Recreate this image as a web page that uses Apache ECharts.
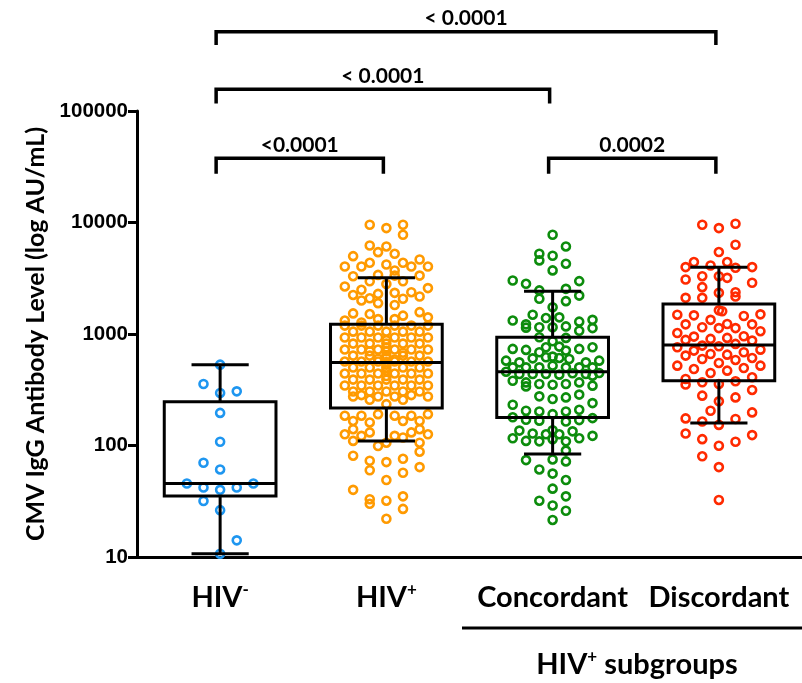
<!DOCTYPE html>
<html><head><meta charset="utf-8">
<script src="https://cdn.jsdelivr.net/npm/echarts@6/dist/echarts.min.js"></script>
<style>html,body{margin:0;padding:0;background:#fff}#c{width:802px;height:683px}</style>
</head><body><div id="c"></div>
<script>
// ---------------- data ----------------
const categories = ['HIV-', 'HIV+', 'Concordant', 'Discordant'];
const yTickLabels = [10, 100, 1000, 10000, 100000];

// box-and-whisker statistics (AU/mL)
const whiskerLow  = [10.7, 110, 84, 159];
const quartile1   = [35.3, 217, 178, 381];
const medians     = [45.6, 556, 459, 798];
const quartile3   = [247, 1222, 934, 1862];
const whiskerHigh = [531, 3190, 2420, 3975];

// individual points: [column offset in the swarm, value]
const hivNegPoints = [
  [0,531],[-1,356],[0,296],[1,306],[0,196],[0,108],[-1,70],[0,61],[-2,45.6],[-1,42],
  [0,40],[1,42],[2,45.6],[-1,31.8],[0,26.3],[1,14.1],[0,10.7]
];
const hivPosPoints = [
  [-1,9550],[0,8910],[1,9550],[1,7760],[-1,6220],[0,6100],[-0.5,5420],[0.5,5240],[-2,4990],[2,4660],
  [-2.5,4030],[-1.5,4030],[-1,4350],[0,4200],[1,4350],[1.5,4030],[2.5,4030],[0.5,3710],[-2,3300],[-0.5,3390],
  [0.5,3340],[2,3340],[-1,2970],[1,2970],[0,2810],[-2.5,2670],[-1.5,2490],[-0.5,2290],[0.5,2340],[1.5,2370],
  [2.5,2580],[-2,2240],[-1,2090],[1,2070],[2,2170],[-1.5,2000],[-0.5,1890],[0.5,1820],[-2,1530],[-1,1510],
  [2,1570],[2.5,1410],[1,1460],[-2.5,1320],[-1.5,1270],[-0.5,1360],[0.5,1360],
  [-2.5,1190],[-1.5,1190],[-0.5,1190],[0.5,1190],[1.5,1190],[2.5,1190],
  [-2,1050],[-1,1050],[0,1050],[1,1050],[2,1050],
  [-2.5,930],[-1.5,930],[-0.5,930],[0.5,930],[1.5,930],[2.5,930],
  [-2,820],[-1,820],[0,820],[1,820],[2,820],
  [-2.5,725],[-1.5,725],[-0.5,725],[0.5,725],[1.5,725],[2.5,725],
  [-2,640],[-1,640],[0,640],[1,640],[2,640],
  [-2.5,566],[-1.5,566],[-0.5,566],[0.5,566],[1.5,566],[2.5,566],
  [-2,500],[-1,500],[0,500],[1,500],[2,500],
  [-2.5,442],[-1.5,442],[-0.5,442],[0.5,442],[1.5,442],[2.5,442],
  [-2,390],[-1,390],[0,390],[1,390],[2,390],
  [-2.5,345],[-1.5,345],[-0.5,345],[0.5,345],[1.5,345],[2.5,345],
  [-2,305],[-1,305],[0,305],[1,305],[2,305],
  [0,700],[0,610],[0,560],[0,530],[0,470],[0.5,590],[-0.5,600],[0,760],[0,880],[-1,700],[1,680],[0,420],
  [-2,275],[-1.5,283],[-0.5,275],[0.5,275],[1.5,283],[2.5,275],[-1,257],[1,257],[0,235],
  [-2.5,185],[-2,166],[-1.5,185],[-1,161],[-0.5,191],[0.5,185],[1,166],[1.5,185],[2,166],[2.5,191],
  [-2.5,126],[-2,140],[-2,110],[-1.5,122],[-1,131],[-0.5,99],[0,106],[0.5,122],[1,118],[1.5,131],
  [2,140],[2,106],[2.5,126],[2,88],[-2,81],[-1,73],[-1,60],[0,71],[1,76],[1,57],
  [2,64],[0,49],[-2,40],[-1,33],[-1,30],[0,32],[1,35],[1,27],[0,22]
];
const concordantPoints = [
  [0,7760],[1,6100],[-1,5250],[-1,4570],[0,5030],[1,4270],[0,3720],[-3,3020],[-2,2820],[2,2980],
  [-1,2460],[1,2540],[-1,2070],[1,1970],[2,2210],[0,1740],[-1.5,1490],[-0.5,1390],[0.5,1410],[-3,1320],
  [-2,1220],[-2,1140],[-1,1150],[0,1150],[1,1170],[2,1290],[2,1070],[3,1340],[3,1130],[-1,935],
  [0,861],[1,923],[-0.5,760],[0.5,771],[-3,735],[-2,720],[1,710],[2,735],[3,760],[-1,686],
  [-1.5,605],[0,627],[-0.5,618],[0.5,610],[-3.5,577],[-2.5,557],[1.25,597],[2.5,557],[3.5,577],
  [-3,502],[-2,502],[-1,502],[0,520],[1,502],[2,502],[3,502],
  [-3.5,459],[-2.5,438],[-1.5,438],[-0.5,438],[0.5,432],[1.5,444],[2.5,438],[3.5,447],
  [-3,381],[-2,368],[-2,339],[-1,356],[0,351],[1,356],[2,368],[3,344],[3,423],
  [-1,276],[0,261],[1,270],[2,286],[-3,232],[3,240],
  [-3,179],[-2,205],[-1,202],[0,191],[1,202],[2,209],[3,176],[-2,170],[-1,167],[1,164],[2,169],
  [-2.5,136],[-1.5,128],[-0.5,126],[0,137],[0.5,126],[1.5,134],
  [-3,116],[-2,110],[-1,109],[0,114],[1,109],[2,116],[3,122],[1,90],
  [-2,74],[0,75],[1,72],[-1,61],[0,56],[1,49],[0,41],[1,35],[-1,32],[0,29],[1,26],[0,21.5]
];
const discordantPoints = [
  [-1,9550],[0,8910],[1,9750],[1,6320],[0,5430],[-1.5,4420],[-2,3980],[-0.5,4120],[0.5,4420],[1,3930],
  [2,3980],[-2,3080],[-1,3300],[0,3300],[0.5,3190],[2,2880],[-1,2630],[0,2340],[1,2370],[1,2170],
  [-2,2110],[-1,2110],[0,1630],[0.2,1600],[-2.5,1490],[-1.5,1470],[1.5,1450],[2.5,1500],
  [-2,1220],[-0.5,1340],[0.5,1230],[2,1220],[-2.5,1020],[-1,1150],[0,1130],[1,1130],[2.5,1060],
  [-2,885],[-1.5,948],[-0.5,904],[0.5,923],[1.5,955],[2,873],
  [-2.5,760],[-1,787],[0,776],[1,815],[2.5,724],
  [-2,640],[-1.5,710],[-0.5,662],[0.5,653],[1.5,686],[2,610],[-1,597],[0,550],[1,585],
  [-2.5,520],[-1.5,485],[-0.5,447],[0.5,469],[1.5,495],[2.5,520],
  [-2,395],[-2,352],[-1,369],[0,356],[1,377],[2,409],[2,315],
  [-1,280],[0,249],[1,270],[-0.5,205],[2,198],[-2,175],[-1,164],[0,153],[1,173],
  [-2,128],[-1,114],[0,99.5],[1,108],[2,124],[-1,80],[0,64],[0,32.5]
];

// significance brackets
const bracketFrom  = [0, 0, 0, 2];
const bracketTo    = [3, 2, 1, 3];
const bracketTop   = [514000, 157000, 37700, 37700];
const bracketLeg   = [390000, 117000, 27400, 27400];
const bracketLabel = ['< 0.0001', '< 0.0001', '<0.0001', '0.0002'];

// ---------------- styling ----------------
const groupPoints = [hivNegPoints, hivPosPoints, concordantPoints, discordantPoints];
const columnStep = [0.1, 0.1, 0.08, 0.1];
const colors = ['#1E96F0', '#FF9A00', '#0C8C0C', '#FF2A00'];
const numFont = 'Liberation Sans';
const txtFont = 'Lato';

const chart = echarts.init(document.getElementById('c'), null, {renderer: 'canvas'});

const scatterSeries = groupPoints.map((pts, g) => ({
  type: 'scatter',
  xAxisIndex: 1, yAxisIndex: 0,
  symbol: 'circle', symbolSize: 8,
  itemStyle: {color: 'rgba(255,255,255,0)', borderColor: colors[g], borderWidth: 2.6, opacity: 1},
  emphasis: {disabled: true},
  silent: true,
  z: 2,
  data: pts.map(p => [g + p[0] * columnStep[g], p[1]])
}));

const boxData = categories.map((c, i) => [i, whiskerLow[i], quartile1[i], medians[i], quartile3[i], whiskerHigh[i]]);

const boxSeries = {
  type: 'custom', xAxisIndex: 1, yAxisIndex: 0, z: 5, silent: true,
  encode: {x: 0, y: [1, 2, 3, 4, 5]},
  data: boxData,
  renderItem: function (params, api) {
    const i = api.value(0);
    const pLow = api.coord([i, api.value(1)]);
    const x = pLow[0];
    const half = api.coord([i + 0.336, api.value(1)])[0] - x;
    const cap = api.coord([i + 0.172, api.value(1)])[0] - x;
    const yLow = pLow[1];
    const yQ1 = api.coord([i, api.value(2)])[1];
    const yMed = api.coord([i, api.value(3)])[1];
    const yQ3 = api.coord([i, api.value(4)])[1];
    const yHigh = api.coord([i, api.value(5)])[1];
    const st = {stroke: '#000', lineWidth: 3, fill: 'none'};
    return {type: 'group', children: [
      {type: 'rect', shape: {x: x - half, y: yQ3, width: 2 * half, height: yQ1 - yQ3}, style: st},
      {type: 'line', shape: {x1: x - half, y1: yMed, x2: x + half, y2: yMed}, style: st},
      {type: 'line', shape: {x1: x, y1: yQ3, x2: x, y2: yHigh}, style: st},
      {type: 'line', shape: {x1: x - cap, y1: yHigh, x2: x + cap, y2: yHigh}, style: st},
      {type: 'line', shape: {x1: x, y1: yQ1, x2: x, y2: yLow}, style: st},
      {type: 'line', shape: {x1: x - cap, y1: yLow, x2: x + cap, y2: yLow}, style: st}
    ]};
  }
};

const bracketData = bracketFrom.map((f, i) => [f, bracketTo[i], bracketTop[i], bracketLeg[i], i]);
const bracketSeries = {
  type: 'custom', xAxisIndex: 1, yAxisIndex: 0, z: 6, silent: true, clip: false,
  encode: {x: [0, 1], y: [2, 3]},
  data: bracketData,
  renderItem: function (params, api) {
    const a = api.value(0), b = api.value(1);
    const pA = api.coord([a, api.value(2)]);
    const pB = api.coord([b, api.value(2)]);
    const yl = api.coord([a, api.value(3)])[1];
    const xa = pA[0] - 4, xb = pB[0] - 3;
    return {type: 'group', children: [
      {type: 'polyline', shape: {points: [[xa, yl], [xa, pA[1]], [xb, pB[1]], [xb, yl]]},
       style: {stroke: '#000', lineWidth: 3.5, fill: 'none', lineJoin: 'miter'}},
      {type: 'text', x: (xa + xb) / 2, y: pA[1] - 13,
       style: {text: bracketLabel[api.value(4)], fill: '#000', font: 'bold 21px ' + txtFont,
               align: 'center', verticalAlign: 'middle'}}
    ]};
  }
};

const richCat = {
  m: {fontSize: 29, fontWeight: 'bold', fontFamily: txtFont, color: '#000', lineHeight: 34},
  s: {fontSize: 17, fontWeight: 'bold', fontFamily: txtFont, color: '#000', verticalAlign: 'top', lineHeight: 17}
};

const option = {
  animation: false,
  backgroundColor: '#fff',
  grid: {left: 137, right: 0, top: 111, bottom: 126, containLabel: false},
  xAxis: [
    {
      type: 'category', data: categories, boundaryGap: true,
      axisLine: {lineStyle: {color: '#000', width: 3}},
      axisTick: {alignWithLabel: true, length: 8, lineStyle: {color: '#000', width: 3}},
      axisLabel: {
        margin: 24, interval: 0,
        formatter: function (v) {
          if (v === 'HIV-') return '{m|HIV}{s|-}';
          if (v === 'HIV+') return '{m|HIV}{s|+}';
          return '{m|' + v + '}';
        },
        rich: richCat
      },
      splitLine: {show: false}
    },
    {type: 'value', min: -0.5, max: 3.5, show: false}
  ],
  yAxis: {
    type: 'log', logBase: 10, min: 10, max: 100000,
    name: 'CMV IgG Antibody Level (log AU/mL)',
    nameLocation: 'middle', nameGap: 88,
    nameTextStyle: {fontFamily: txtFont, fontWeight: 'bold', fontSize: 25, color: '#000'},
    axisLine: {show: true, onZero: false, lineStyle: {color: '#000', width: 3}},
    axisTick: {show: true, length: 9, lineStyle: {color: '#000', width: 3}},
    minorTick: {show: false},
    splitLine: {show: false},
    axisLabel: {
      margin: 9, color: '#000', fontFamily: numFont, fontWeight: 'bold', fontSize: 20.5,
      formatter: function (v) {
        const r = Math.round(v);
        return yTickLabels.indexOf(r) >= 0 ? String(r) : '';
      }
    }
  },
  graphic: [
    {type: 'line', shape: {x1: 462, y1: 628, x2: 802, y2: 628}, style: {stroke: '#000', lineWidth: 3}},
    {type: 'text', x: 637, y: 665,
     style: {text: '{m|HIV}{s|+}{m| subgroups}', align: 'center', verticalAlign: 'middle',
             rich: richCat}}
  ],
  series: [...scatterSeries, boxSeries, bracketSeries]
};
chart.setOption(option);
</script>
</body></html>
